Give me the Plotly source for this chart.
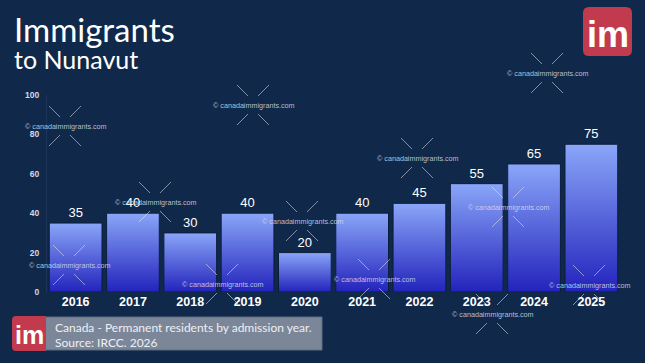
import plotly.graph_objects as go

# ---- data ----
years = ["2016", "2017", "2018", "2019", "2020", "2021", "2022", "2023", "2024", "2025"]
immigrants = [35, 40, 30, 40, 20, 40, 45, 55, 65, 75]
y_ticks = [0, 20, 40, 60, 80, 100]

title_main = "Immigrants"
title_sub = "to Nunavut"
caption_1 = "Canada - Permanent residents by admission year."
caption_2 = "Source: IRCC. 2026"
watermark_text = "© canadaimmigrants.com"

# ---- layout constants (pixels) ----
W, H = 645, 363
L, R, T, B = 47, 620, 95, 292   # plot area in pixels
BG = "#10294a"
BAR_TOP = "#8aa6f8"
BAR_BOT = "#2323bc"
BAR_W = 0.92


def px(x):
    return (x - L) / (R - L)


def py(y):
    return (B - y) / (B - T)


fig = go.Figure()

xs = list(range(len(years)))
fig.add_trace(go.Bar(
    x=xs, y=immigrants, width=BAR_W,
    marker=dict(color="#5566dd", line=dict(width=0)),
    text=[str(v) for v in immigrants], textposition="outside",
    textfont=dict(family="Liberation Sans, Arial", size=13, color="white"),
    cliponaxis=False, showlegend=False, hoverinfo="x+y",
))

# gradient overlay for each bar (built from the same data)
for i, v in zip(xs, immigrants):
    x0, x1 = i - BAR_W / 2, i + BAR_W / 2
    fig.add_trace(go.Scatter(
        x=[x0, x1, x1, x0, x0], y=[0, 0, v, v, 0],
        mode="lines", fill="toself",
        line=dict(color="#0b1d38", width=1),
        fillgradient=dict(type="vertical",
                          colorscale=[[0, BAR_BOT], [1, BAR_TOP]]),
        showlegend=False, hoverinfo="skip",
    ))

shapes = []
annotations = []

# watermarks: (center x, center y) in pixels
watermarks = [(65, 126), (69, 265), (253, 105), (155, 202), (302, 221),
              (417, 158), (508, 207), (547, 73), (222, 284), (374, 279),
              (492, 314), (589, 285)]
for cx, cy in watermarks:
    for sx in (-1, 1):
        for sy in (-1, 1):
            shapes.append(dict(
                type="line", xref="paper", yref="paper",
                x0=px(cx + sx * 5), y0=py(cy + sy * 9),
                x1=px(cx + sx * 16), y1=py(cy + sy * 20),
                line=dict(color="rgba(225,230,240,0.55)", width=1),
                layer="above",
            ))
    annotations.append(dict(
        text=watermark_text, xref="paper", yref="paper",
        x=px(cx + 1), y=py(cy), xanchor="center", yanchor="middle",
        showarrow=False,
        font=dict(family="Liberation Sans, Arial", size=7.2,
                  color="rgba(215,220,230,0.85)"),
    ))

# title
annotations.append(dict(text=title_main, xref="paper", yref="paper",
                        x=px(12), y=py(29), xanchor="left", yanchor="middle",
                        showarrow=False,
                        font=dict(family="Lato, Open Sans", size=33, color="white")))
annotations.append(dict(text=title_sub, xref="paper", yref="paper",
                        x=px(12), y=py(59), xanchor="left", yanchor="middle",
                        showarrow=False,
                        font=dict(family="Lato, Open Sans", size=25, color="white")))


def rounded_rect(x0, y0, x1, y1, r, left=True, right=True):
    # pixel coordinates -> paper path
    def p(x, y):
        return f"{px(x):.5f},{py(y):.5f}"
    rl = r if left else 0
    rr = r if right else 0
    path = f"M {p(x0 + rl, y0)} L {p(x1 - rr, y0)} "
    path += f"Q {p(x1, y0)} {p(x1, y0 + rr)} " if rr else ""
    path += f"L {p(x1, y1 - rr)} "
    path += f"Q {p(x1, y1)} {p(x1 - rr, y1)} " if rr else ""
    path += f"L {p(x0 + rl, y1)} "
    path += f"Q {p(x0, y1)} {p(x0, y1 - rl)} " if rl else ""
    path += f"L {p(x0, y0 + rl)} "
    path += f"Q {p(x0, y0)} {p(x0 + rl, y0)} " if rl else ""
    return path + "Z"


# top-right logo
shapes.append(dict(type="path", xref="paper", yref="paper",
                   path=rounded_rect(583, 7, 632, 56, 6),
                   fillcolor="#c23a4d", line=dict(width=0), layer="above"))
annotations.append(dict(text="im", xref="paper", yref="paper",
                        x=px(607.5), y=py(34), xanchor="center", yanchor="middle",
                        showarrow=False,
                        font=dict(family="Liberation Sans, Arial", size=36,
                                  color="white", weight="bold")))

# bottom caption box
shapes.append(dict(type="rect", xref="paper", yref="paper",
                   x0=px(45), x1=px(322), y0=py(317), y1=py(350),
                   fillcolor="#7b8699", line=dict(color="#5d6a80", width=1),
                   layer="above"))
shapes.append(dict(type="path", xref="paper", yref="paper",
                   path=rounded_rect(12, 316, 46, 351, 4, left=True, right=False),
                   fillcolor="#c23a4d", line=dict(width=0), layer="above"))
annotations.append(dict(text="im", xref="paper", yref="paper",
                        x=px(29), y=py(335), xanchor="center", yanchor="middle",
                        showarrow=False,
                        font=dict(family="Liberation Sans, Arial", size=25,
                                  color="white", weight="bold")))
annotations.append(dict(text=caption_1, xref="paper", yref="paper",
                        x=px(53), y=py(327), xanchor="left", yanchor="middle",
                        showarrow=False,
                        font=dict(family="Lato, Open Sans", size=12, color="#eef0f5")))
annotations.append(dict(text=caption_2, xref="paper", yref="paper",
                        x=px(53), y=py(342), xanchor="left", yanchor="middle",
                        showarrow=False,
                        font=dict(family="Lato, Open Sans", size=12, color="#eef0f5")))

fig.update_layout(
    width=W, height=H,
    margin=dict(l=L, r=W - R, t=T, b=H - B, pad=0),
    paper_bgcolor=BG, plot_bgcolor=BG,
    shapes=shapes, annotations=annotations,
    showlegend=False,
    xaxis=dict(range=[-0.5, len(years) - 0.5], tickvals=xs, ticktext=years,
               showgrid=False, zeroline=False, showline=False, ticks="",
               tickfont=dict(family="Liberation Sans, Arial", size=12.5,
                             color="white", weight="bold"),
               fixedrange=True),
    yaxis=dict(range=[0, 100], tickvals=y_ticks,
               showgrid=False, zeroline=False, showline=True,
               linecolor="#1c3558", linewidth=1, ticks="",
               ticklabelstandoff=5,
               tickfont=dict(family="Liberation Sans, Arial", size=8.5,
                             color="#d5d9e2", weight="bold"),
               fixedrange=True),
)

fig.write_html(
    "out.html",
    config={"displayModeBar": False},
    post_script="document.body.style.margin='0';document.body.style.padding='0';"
                "document.body.style.background='" + BG + "';",
)
